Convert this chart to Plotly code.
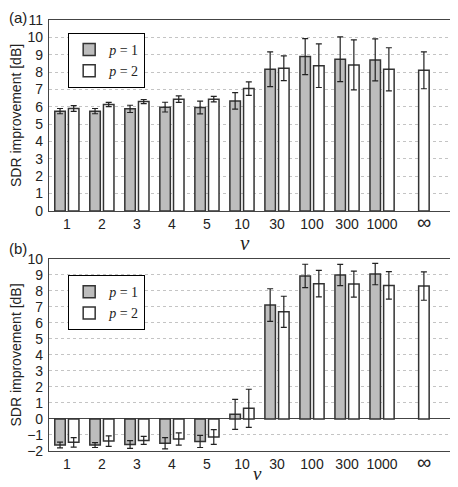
import plotly.graph_objects as go
from plotly.subplots import make_subplots

# categories (nu)
nu_labels = ["1", "2", "3", "4", "5", "10", "30", "100", "300", "1000", "∞"]

# panel (a)
a_p1 = [5.75, 5.75, 5.88, 5.98, 5.96, 6.34, 8.16, 8.89, 8.74, 8.70, None]
a_p1_err = [0.15, 0.15, 0.21, 0.28, 0.37, 0.48, 1.00, 1.04, 1.29, 1.21, None]
a_p2 = [5.90, 6.13, 6.30, 6.44, 6.44, 7.05, 8.22, 8.37, 8.41, 8.16, 8.10]
a_p2_err = [0.17, 0.12, 0.12, 0.19, 0.16, 0.39, 0.71, 1.26, 1.44, 1.24, 1.06]

# panel (b)
b_p1 = [-1.63, -1.63, -1.59, -1.52, -1.40, 0.29, 7.12, 8.94, 9.00, 9.06, None]
b_p1_err = [0.18, 0.15, 0.24, 0.35, 0.38, 0.94, 1.02, 0.73, 0.66, 0.67, None]
b_p2 = [-1.46, -1.38, -1.34, -1.25, -1.13, 0.67, 6.70, 8.46, 8.43, 8.35, 8.31]
b_p2_err = [0.30, 0.33, 0.25, 0.38, 0.46, 1.19, 0.97, 0.83, 0.81, 0.86, 0.89]

x = list(range(len(nu_labels)))

GRAY = "#bdbdbd"
EDGE = "#333333"
serif = "Liberation Serif"
sans = "Liberation Sans"

fig = make_subplots(rows=2, cols=1, vertical_spacing=0.11)


def add_pair(row, p1, p1e, p2, p2e, legend):
    for vals, errs, color, name in [(p1, p1e, GRAY, "<i>p</i> = 1"),
                                    (p2, p2e, "white", "<i>p</i> = 2")]:
        fig.add_trace(go.Bar(
            x=x, y=vals, name=name, legend=legend,
            marker=dict(color=color, line=dict(color=EDGE, width=1.5)),
            error_y=dict(type="data", array=errs, color="#222222",
                         thickness=1.2, width=3),
        ), row=row, col=1)


add_pair(1, a_p1, a_p1_err, a_p2, a_p2_err, "legend")
add_pair(2, b_p1, b_p1_err, b_p2, b_p2_err, "legend2")

# the infinity sign is drawn bigger and a little to the right
tickvals = x[:-1] + [x[-1] + 0.2]
ticktext = nu_labels[:-1] + ["<span style='font-size:20px'>" + nu_labels[-1] + "</span>"]

axis_common = dict(showline=True, linecolor="#444444", linewidth=1.2, mirror=True,
                   ticks="", automargin=False,
                   tickfont=dict(family=sans, size=14, color="#222222"))

fig.update_xaxes(range=[-0.51, 11.14], tickvals=tickvals, ticktext=ticktext,
                 showgrid=False, zeroline=False, **axis_common)
fig.update_yaxes(showgrid=True, gridcolor="#c4c4c4", griddash="dot", gridwidth=1,
                 dtick=1, ticklabelstandoff=2,
                 title=dict(text="SDR improvement [dB]",
                            font=dict(family=sans, size=14, color="#222222"),
                            standoff=3),
                 **axis_common)
fig.update_yaxes(range=[0, 11], zeroline=False, row=1, col=1)
fig.update_yaxes(range=[-2, 10], zeroline=True, zerolinecolor="#444444",
                 zerolinewidth=1.2, row=2, col=1)

legend_style = dict(xanchor="left", yanchor="top",
                    bgcolor="white", bordercolor="black", borderwidth=1,
                    font=dict(family=serif, size=14, color="#222222"),
                    tracegroupgap=0, itemwidth=30)

# page body has an 8px margin, so the figure is 8px smaller than the window
fig.update_layout(
    width=450, height=479,
    margin=dict(l=41, r=1, t=12, b=36),
    plot_bgcolor="white", paper_bgcolor="white",
    barmode="group", bargap=0.22, bargroupgap=0.23,
    yaxis=dict(domain=[0.557, 1.0]),
    yaxis2=dict(domain=[0.0, 0.4455]),
    legend=dict(x=0.047, y=0.97, **legend_style),
    legend2=dict(x=0.047, y=0.408, **legend_style),
    annotations=[
        dict(text="(a)", x=0, y=1.0, xref="paper", yref="paper", xanchor="left",
             yanchor="top", showarrow=False, xshift=-42, yshift=13,
             font=dict(family=sans, size=15, color="#222222")),
        dict(text="(b)", x=0, y=0.4455, xref="paper", yref="paper", xanchor="left",
             yanchor="middle", showarrow=False, xshift=-42, yshift=10,
             font=dict(family=sans, size=15, color="#222222")),
        dict(text="<i>ν</i>", x=5.1, y=0.557, xref="x", yref="paper", yshift=-32,
             yanchor="middle", showarrow=False, xanchor="center",
             font=dict(family=serif, size=21, color="#222222")),
        dict(text="<i>ν</i>", x=5.45, y=0, xref="x", yref="paper", yshift=-35,
             yanchor="bottom", showarrow=False, xanchor="center",
             font=dict(family=serif, size=19, color="#222222")),
    ],
)

fig.write_html("out.html")
